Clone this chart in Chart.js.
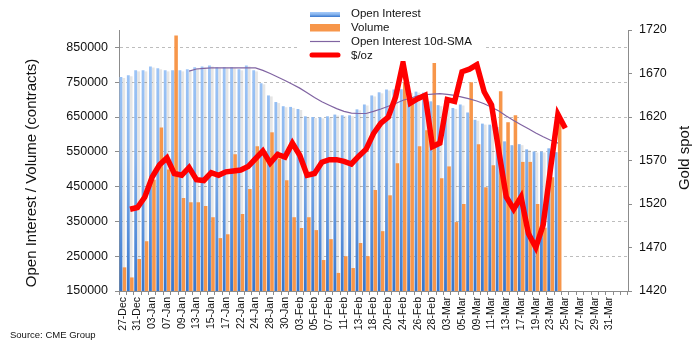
<!DOCTYPE html>
<html>
<head>
<meta charset="utf-8">
<script src="https://cdn.jsdelivr.net/npm/chart.js@4.4.1/dist/chart.umd.min.js"></script>
<style>
  html, body { margin: 0; padding: 0; background: #fff; }
  canvas { display: block; }
</style>
</head>
<body>
<canvas id="goldChart" width="699" height="347"></canvas>
<script>
// trading days, padded with calendar days to the start of April
const dates = ['27-Dec','30-Dec','31-Dec','02-Jan','03-Jan','06-Jan','07-Jan','08-Jan','09-Jan','10-Jan',
  '13-Jan','14-Jan','15-Jan','16-Jan','17-Jan','21-Jan','22-Jan','23-Jan','24-Jan','27-Jan',
  '28-Jan','29-Jan','30-Jan','31-Jan','03-Feb','04-Feb','05-Feb','06-Feb','07-Feb','10-Feb',
  '11-Feb','12-Feb','13-Feb','14-Feb','18-Feb','19-Feb','20-Feb','21-Feb','24-Feb','25-Feb',
  '26-Feb','27-Feb','28-Feb','02-Mar','03-Mar','04-Mar','05-Mar','06-Mar','09-Mar','10-Mar',
  '11-Mar','12-Mar','13-Mar','16-Mar','17-Mar','18-Mar','19-Mar','20-Mar','23-Mar','24-Mar',
  '25-Mar','26-Mar','27-Mar','28-Mar','29-Mar','30-Mar','31-Mar','01-Apr','02-Apr'];

const openInterest = [765000, 770000, 784000, 784000, 795000, 790000, 784000, 784000, 784000, 787000,
  793000, 795000, 798000, 793000, 793000, 793000, 787000, 798000, 784000, 747000,
  712000, 693000, 681000, 679000, 673000, 652000, 650000, 649000, 652000, 657000,
  655000, 655000, 672000, 686000, 712000, 721000, 729000, 729000, 730000, 722000,
  723000, 720000, 695000, 684000, 698000, 676000, 686000, 663000, 642000, 631000,
  628000, 621000, 580000, 569000, 572000, 557000, 551000, 551000, 560000, 549000];

const volume = [218000, 189000, 242000, 293000, 470000, 620000, 499000, 884000, 417000, 405000,
  405000, 394000, 362000, 302000, 313000, 543000, 371000, 443000, 566000, 550000,
  606000, 531000, 468000, 362000, 331000, 362000, 325000, 239000, 299000, 202000,
  250000, 216000, 288000, 250000, 440000, 322000, 425000, 517000, 750000, 705000,
  566000, 612000, 805000, 474000, 508000, 348000, 400000, 750000, 572000, 448000,
  511000, 724000, 635000, 655000, 521000, 521000, 400000, 332000, 477000, 638000];

const oiSma = [null, null, null, null, null, null, null, null, null, 782000,
  788000, 790000, 791000, 791000, 791000, 791000, 791000, 791000, 791000, 784000,
  775000, 765000, 755000, 744000, 733000, 720000, 706000, 694000, 684000, 674000,
  666000, 661000, 660000, 660000, 666000, 673000, 681000, 689000, 698000, 704000,
  711000, 714000, 716000, 717000, 715000, 712000, 707000, 702000, 696000, 688000,
  678000, 667000, 653000, 640000, 628000, 616000, 604000, 593000, 583000, 575000];

const goldSpot = [null, 1514, 1516, 1528, 1551, 1565, 1573, 1555, 1553, 1562,
  1548, 1547, 1556, 1553, 1557, 1558, 1559, 1563, 1572, 1581,
  1567, 1577, 1574, 1590, 1576, 1553, 1555, 1568, 1571, 1571,
  1569, 1566, 1575, 1583, 1601, 1613, 1620, 1643, 1682, 1636,
  1641, 1645, 1586, 1590, 1640, 1638, 1672, 1675, 1680, 1649,
  1634, 1580, 1528, 1514, 1528, 1486, 1470, 1496, 1561, 1623, 1607];

const contractTicks = [150000, 250000, 350000, 450000, 550000, 650000, 750000, 850000];

const FONT = '"Liberation Sans", Arial, Helvetica, sans-serif';
const AXIS_GREY = '#8c8c8c';

function oiGradient(c, top, bottom) {
  const g = c.createLinearGradient(0, top, 0, bottom);
  g.addColorStop(0, '#a6cbfa');
  g.addColorStop(0.45, '#8ab6ee');
  g.addColorStop(1, '#3776cd');
  return g;
}

function oiFill(context) {
  const { ctx, chartArea } = context.chart;
  if (!chartArea) return '#8ab6ee';
  return oiGradient(ctx, chartArea.top, chartArea.bottom);
}

// grey stripe on the right of each open interest bar, sits behind the volume bars
const barShadow = {
  id: 'barShadow',
  beforeDatasetsDraw(chart) {
    const { ctx, chartArea } = chart;
    ctx.save();
    ctx.beginPath();
    ctx.rect(chartArea.left, chartArea.top, chartArea.width, chartArea.height);
    ctx.clip();
    ctx.fillStyle = 'rgba(0,0,0,0.10)';
    chart.getDatasetMeta(0).data.forEach(bar => {
      const { x, y, width } = bar.getProps(['x', 'y', 'width'], true);
      ctx.fillRect(x + width / 2, y + 1, width, chartArea.bottom - y - 1);
    });
    ctx.restore();
  }
};

// legend box laid over the top of the plot
const boxLegend = {
  id: 'boxLegend',
  afterDraw(chart) {
    const { ctx } = chart;
    const sets = chart.data.datasets;
    ctx.save();
    ctx.fillStyle = '#fff';
    ctx.fillRect(298, 0, 186, 61);

    ctx.fillStyle = oiGradient(ctx, 12, 17);
    ctx.fillRect(310, 12, 30, 5);
    ctx.fillStyle = sets[1].backgroundColor;
    ctx.fillRect(310, 24, 30, 7.5);

    ctx.strokeStyle = sets[2].borderColor;
    ctx.lineWidth = 1.2;
    ctx.beginPath(); ctx.moveTo(310, 41.5); ctx.lineTo(340, 41.5); ctx.stroke();

    ctx.strokeStyle = sets[3].borderColor;
    ctx.lineWidth = 5;
    ctx.lineCap = 'round';
    ctx.beginPath(); ctx.moveTo(312, 55); ctx.lineTo(338, 55); ctx.stroke();

    ctx.fillStyle = '#111';
    ctx.font = '11.5px ' + FONT;
    ctx.textBaseline = 'middle';
    sets.forEach((ds, i) => ctx.fillText(ds.label, 351, 13.5 + i * 14));
    ctx.restore();
  }
};

// axis titles and source line
const chartText = {
  id: 'chartText',
  afterDraw(chart) {
    const { ctx } = chart;
    ctx.save();
    ctx.fillStyle = '#111';
    ctx.textAlign = 'center';
    ctx.textBaseline = 'middle';
    ctx.font = '15px ' + FONT;

    ctx.save();
    ctx.translate(32, 173);
    ctx.rotate(-Math.PI / 2);
    ctx.fillText('Open Interest / Volume (contracts)', 0, 0);
    ctx.restore();

    ctx.save();
    ctx.translate(685, 158);
    ctx.rotate(-Math.PI / 2);
    ctx.fillText('Gold spot', 0, 0);
    ctx.restore();

    ctx.textAlign = 'left';
    ctx.font = '9.5px ' + FONT;
    ctx.fillText('Source: CME Group', 10, 335);
    ctx.restore();
  }
};

new Chart(document.getElementById('goldChart'), {
  data: {
    labels: dates,
    datasets: [
      {
        type: 'bar',
        label: 'Open Interest',
        data: openInterest,
        backgroundColor: oiFill,
        yAxisID: 'y',
        order: 2,
        categoryPercentage: 0.96,
        barPercentage: 0.8
      },
      {
        type: 'bar',
        label: 'Volume',
        data: volume,
        backgroundColor: '#f7964a',
        yAxisID: 'y',
        order: 2,
        categoryPercentage: 0.96,
        barPercentage: 1.0
      },
      {
        type: 'line',
        label: 'Open Interest 10d-SMA',
        data: oiSma,
        borderColor: '#8064a2',
        borderWidth: 1.2,
        pointRadius: 0,
        yAxisID: 'y',
        order: 1
      },
      {
        type: 'line',
        label: '$/oz',
        data: goldSpot,
        borderColor: '#ff0000',
        borderWidth: 5.5,
        pointRadius: 0,
        yAxisID: 'y1',
        order: 0
      }
    ]
  },
  options: {
    responsive: false,
    animation: false,
    layout: { padding: { top: 30 } },
    plugins: {
      legend: { display: false },
      tooltip: { enabled: false }
    },
    scales: {
      x: {
        grid: { offset: true, drawOnChartArea: false, tickLength: 4, tickColor: AXIS_GREY },
        border: { color: AXIS_GREY },
        ticks: {
          autoSkip: false,
          minRotation: 90,
          maxRotation: 90,
          padding: 2,
          color: '#111',
          font: { family: FONT, size: 10.5 },
          callback: (v, i) => (i % 2 === 0 && i < dates.length - 1) ? dates[i] : ''
        },
        afterFit: s => { s.height = 56; }
      },
      y: {
        position: 'left',
        min: 150000,
        max: 900000,
        afterBuildTicks: s => { s.ticks = contractTicks.map(v => ({ value: v })); },
        grid: {
          color: c => (c.tick && c.tick.value === contractTicks[0]) ? 'rgba(0,0,0,0)' : '#bdbdbd',
          tickColor: AXIS_GREY,
          tickLength: 4
        },
        border: { color: AXIS_GREY, dash: [3, 3] },
        ticks: {
          padding: 7,
          color: '#111',
          font: { family: FONT, size: 12.5 },
          callback: v => String(v)
        },
        afterFit: s => { s.width = 119; }
      },
      y1: {
        position: 'right',
        min: 1420,
        max: 1720,
        grid: { drawOnChartArea: false, tickColor: AXIS_GREY, tickLength: 4 },
        border: { color: AXIS_GREY },
        ticks: {
          stepSize: 50,
          padding: 7,
          color: '#111',
          font: { family: FONT, size: 12.5 },
          callback: v => String(v)
        },
        afterFit: s => { s.width = 71; }
      }
    }
  },
  plugins: [barShadow, boxLegend, chartText]
});
</script>
</body>
</html>
